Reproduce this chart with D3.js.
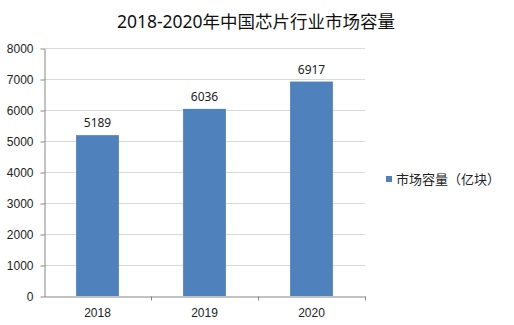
<!DOCTYPE html>
<html lang="zh">
<head>
  <meta charset="UTF-8">
  <title>2018-2020年中国芯片行业市场容量</title>
  <script src="https://d3js.org/d3.v7.min.js"></script>
  <style>
    body { margin: 0; background: #fff; font-family: "Noto Sans", "Noto Sans CJK SC", sans-serif; }
    .grid line { stroke: #d9d9d9; }
    .axis path, .axis line { stroke: #868686; }
    .axis text { fill: #222; font-size: 12px; }
  </style>
</head>
<body>
  <svg width="514" height="325"></svg>
  <script>
    // 数据
    const years = ["2018", "2019", "2020"];
    const capacity = [5189, 6036, 6917];
    const yTicks = [0, 1000, 2000, 3000, 4000, 5000, 6000, 7000, 8000];
    const seriesName = "市场容量（亿块）";

    const svg = d3.select("svg");
    const plotL = 44, plotR = 365, plotT = 48, plotB = 296;

    const x = d3.scaleBand().domain(years).range([plotL, plotR]);
    const y = d3.scaleLinear().domain([0, 8000]).range([plotB, plotT]);

    // 标题
    svg.append("text")
      .attr("x", 256).attr("y", 28)
      .attr("text-anchor", "middle")
      .style("font-size", "17.5px").style("fill", "#111")
      .text("2018-2020年中国芯片行业市场容量");

    // 网格线
    svg.append("g").attr("class", "grid")
      .selectAll("line")
      .data(yTicks.filter(d => d > 0))
      .enter().append("line")
      .attr("x1", plotL).attr("x2", plotR)
      .attr("y1", d => y(d) + 0.5).attr("y2", d => y(d) + 0.5);

    // y 轴
    svg.append("g").attr("class", "axis")
      .attr("transform", `translate(${plotL + 0.5},0.5)`)
      .call(d3.axisLeft(y).tickValues(yTicks).tickFormat(d3.format("d"))
        .tickSize(4).tickPadding(7).tickSizeOuter(0));

    // 柱子
    const barW = x.bandwidth() * 0.4;
    svg.selectAll(".bar")
      .data(capacity)
      .enter().append("rect")
      .attr("class", "bar")
      .attr("x", (d, i) => x(years[i]) + x.bandwidth() / 2 - barW / 2)
      .attr("y", d => y(d))
      .attr("width", barW)
      .attr("height", d => plotB - y(d))
      .attr("fill", "#4f81bd");

    // 数值标签
    svg.selectAll(".val")
      .data(capacity)
      .enter().append("text")
      .attr("x", (d, i) => x(years[i]) + x.bandwidth() / 2)
      .attr("y", d => y(d) - 8)
      .attr("text-anchor", "middle")
      .style("font-size", "12px").style("fill", "#222")
      .text(d => d);

    // x 轴
    const xAxis = svg.append("g").attr("class", "axis")
      .attr("transform", `translate(0,${plotB + 0.5})`)
      .call(d3.axisBottom(x).tickSize(0).tickPadding(12).tickSizeOuter(0));
    // 分隔刻度
    xAxis.selectAll(".sep")
      .data(years)
      .enter().append("line")
      .attr("class", "sep")
      .attr("x1", (d, i) => plotL + x.step() * (i + 1) + 0.5)
      .attr("x2", (d, i) => plotL + x.step() * (i + 1) + 0.5)
      .attr("y1", 0).attr("y2", 4);

    // 图例
    const lg = svg.append("g").attr("transform", "translate(386,183)");
    lg.append("rect").attr("x", 0).attr("y", -7).attr("width", 6).attr("height", 6).attr("fill", "#4f81bd");
    lg.append("text").attr("x", 10).attr("y", 1)
      .style("font-size", "13px").style("fill", "#222")
      .text(seriesName);
  </script>
</body>
</html>
